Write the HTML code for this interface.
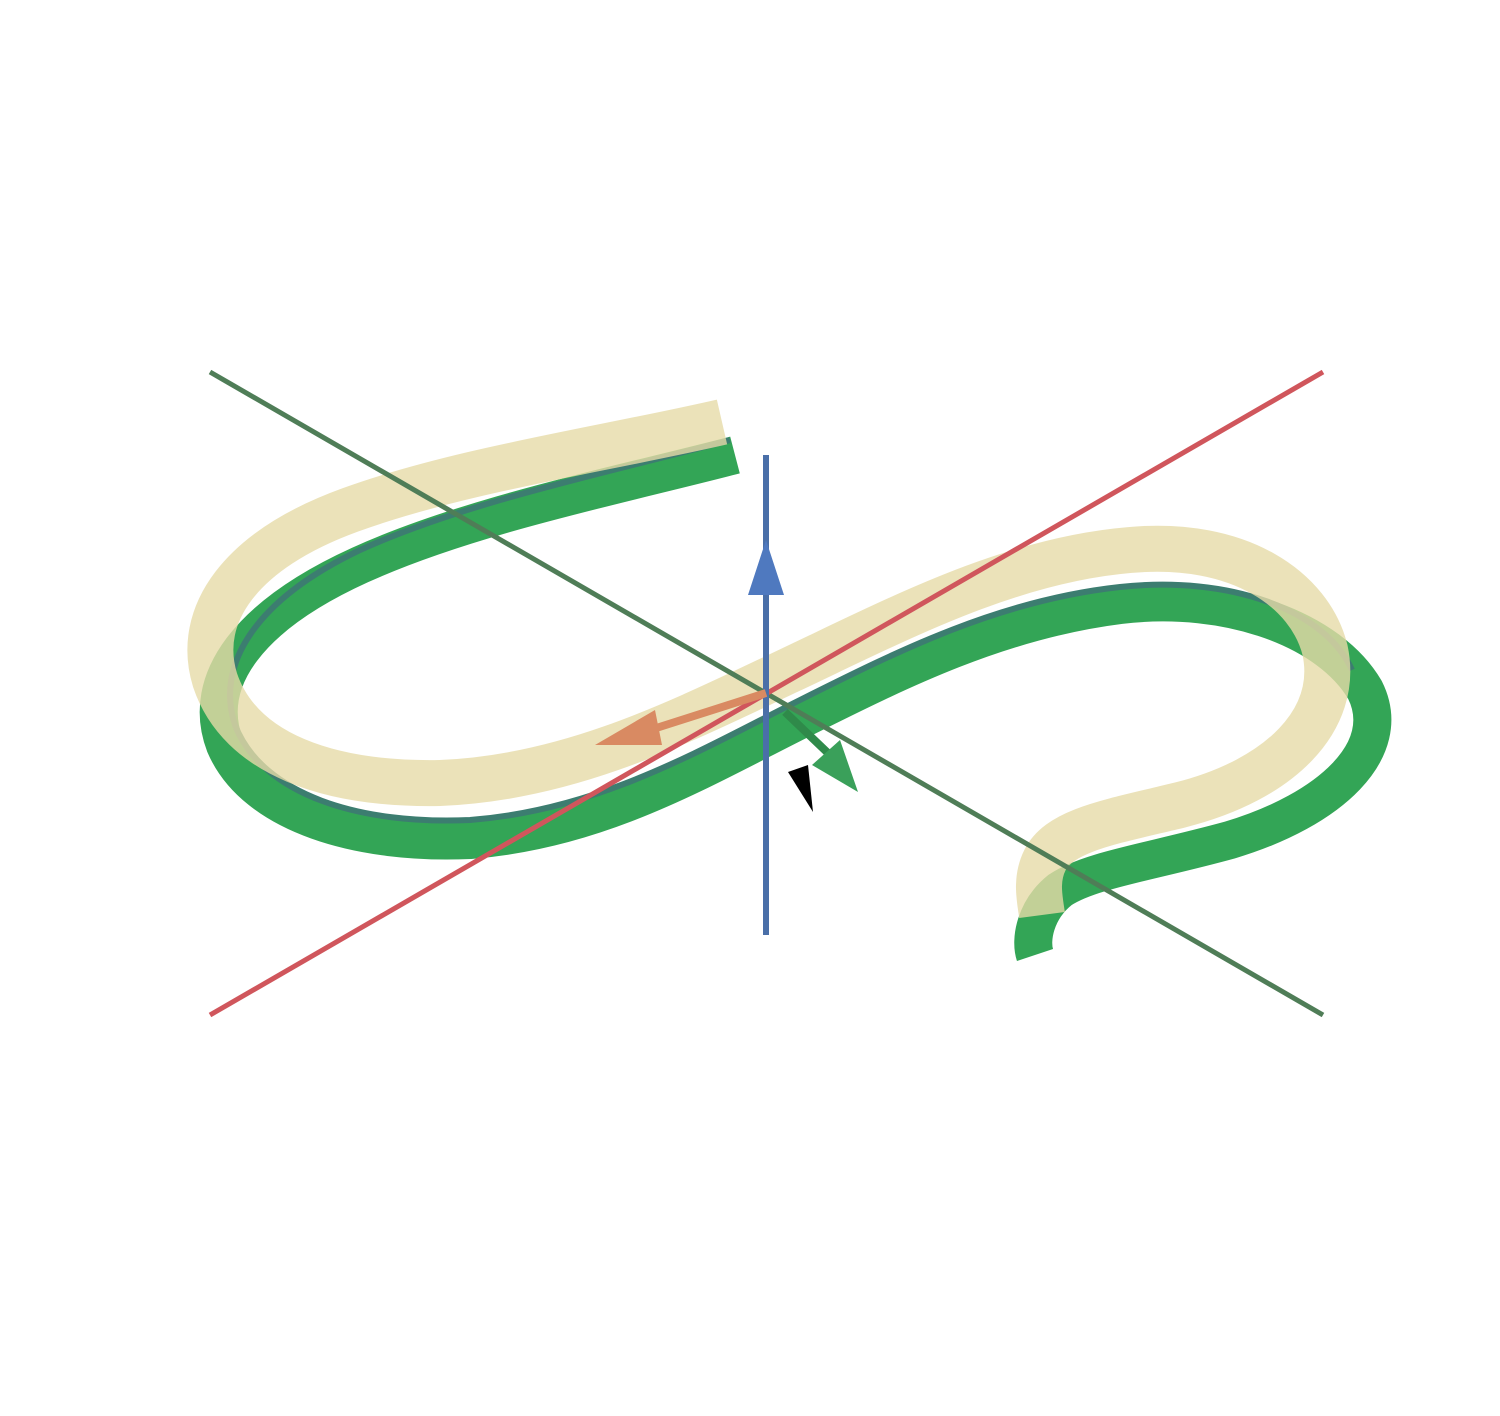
<!DOCTYPE html>
<html><head><meta charset="utf-8"><style>
html,body{margin:0;padding:0;background:#fff;}
svg{display:block;}
</style></head><body>
<svg width="1500" height="1416" viewBox="0 0 1500 1416">
  <!-- green tube -->
  <path d="M735,455 C620,485 470,515 360,565 C250,615 200,680 225,745 C255,815 360,845 470,840 C600,830 700,770 800,720 C900,670 1000,620 1120,605 C1230,592 1330,630 1365,690 C1395,750 1330,810 1230,840 C1150,862 1090,870 1060,890 C1035,910 1030,940 1035,955" fill="none" stroke="#33a556" stroke-width="38" stroke-linecap="butt"/>
  <path d="M730,440 C620,470 470,500 360,550 C255,600 215,665 235,725 C262,795 360,825 470,820 C600,810 700,750 800,700 C900,650 1000,600 1120,587 C1230,575 1325,610 1352,670" fill="none" stroke="#3c7d70" stroke-width="6"/>
  <!-- yellow ribbon -->
  <path d="M722,422 C600,450 460,470 350,510 C240,550 195,615 215,680 C240,755 330,785 440,783 C570,778 680,722 790,670 C900,618 1010,560 1130,550 C1240,540 1310,590 1325,650 C1340,720 1280,780 1180,805 C1110,822 1060,830 1045,860 C1035,880 1040,900 1042,915" fill="none" stroke="#e6dba8" stroke-width="46" opacity="0.8"/>
  <!-- axes -->
  <line x1="210" y1="372" x2="1323" y2="1015" stroke="#4f7d57" stroke-width="5"/>
  <line x1="210" y1="1015" x2="1323" y2="372" stroke="#d0565c" stroke-width="5"/>
  <line x1="766" y1="455" x2="766" y2="935" stroke="#4a6fa8" stroke-width="6"/>
  <!-- arrows -->
  <path d="M766,540 L748,595 L784,595 Z" fill="#4f79bf"/>
  <line x1="766" y1="693" x2="650" y2="730" stroke="#d98a62" stroke-width="8"/>
  <path d="M595,745 L655,710 L662,745 Z" fill="#d98a62"/>
  <line x1="785" y1="712" x2="830" y2="755" stroke="#2f8a4a" stroke-width="8"/>
  <path d="M858,792 L812,765 L840,740 Z" fill="#3aa05a"/>
  <path d="M813,812 L788,772 L808,765 Z" fill="#000"/>
</svg>
</body></html>
